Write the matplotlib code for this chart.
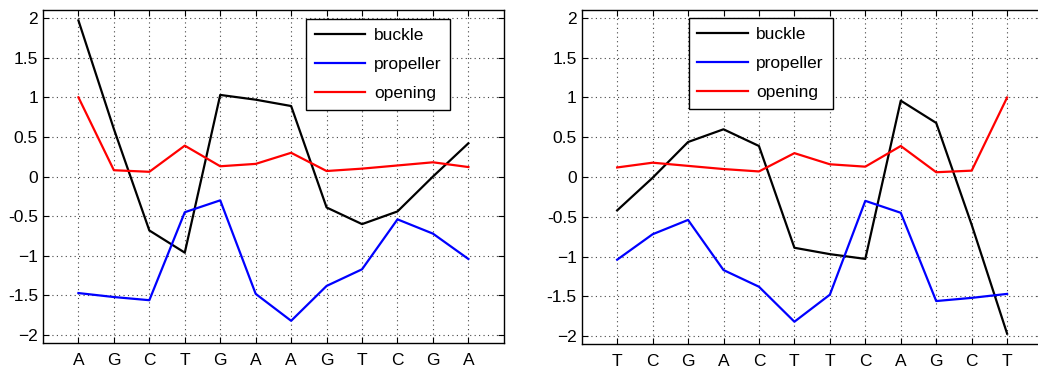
import matplotlib.pyplot as plt

plt.rcParams['font.family'] = ['Liberation Sans', 'DejaVu Sans']

# strand 1 (5'->3') and its complement
seq_left = ['A', 'G', 'C', 'T', 'G', 'A', 'A', 'G', 'T', 'C', 'G', 'A']
seq_right = ['T', 'C', 'G', 'A', 'C', 'T', 'T', 'C', 'A', 'G', 'C', 'T']

buckle_left = [1.97, 0.60, -0.68, -0.96, 1.03, 0.97, 0.89, -0.39, -0.60, -0.44, 0.00, 0.42]
propeller_left = [-1.47, -1.52, -1.56, -0.45, -0.30, -1.48, -1.82, -1.38, -1.17, -0.54, -0.72, -1.04]
opening_left = [1.00, 0.08, 0.06, 0.39, 0.13, 0.16, 0.30, 0.07, 0.10, 0.14, 0.18, 0.12]

buckle_right = [-0.42, -0.01, 0.44, 0.60, 0.39, -0.89, -0.97, -1.03, 0.96, 0.68, -0.60, -1.97]
propeller_right = [-1.04, -0.72, -0.54, -1.17, -1.38, -1.82, -1.48, -0.30, -0.45, -1.56, -1.52, -1.47]
opening_right = [0.12, 0.18, 0.14, 0.10, 0.07, 0.30, 0.16, 0.13, 0.39, 0.06, 0.08, 1.00]

yticks = [-2, -1.5, -1, -0.5, 0, 0.5, 1, 1.5, 2]
ytick_labels = ['\u22122', '-1.5', '\u22121', '-0.5', '0', '0.5', '1', '1.5', '2']

fig = plt.figure(figsize=(10.38, 3.67), dpi=100)
ax1 = fig.add_axes([0.0414, 0.0654, 0.444, 0.907])
ax2 = fig.add_axes([0.5604, 0.0627, 0.444, 0.910])


def draw_panel(ax, seq, buckle, propeller, opening, legend_anchor):
    x = list(range(1, len(seq) + 1))
    ax.plot(x, buckle, color='black', lw=1.6, label='buckle')
    ax.plot(x, propeller, color='blue', lw=1.6, label='propeller')
    ax.plot(x, opening, color='red', lw=1.6, label='opening')
    ax.set_xlim(0, len(seq) + 1)
    ax.set_ylim(-2.1, 2.1)
    ax.set_xticks(x)
    ax.set_xticklabels(seq)
    ax.set_yticks(yticks)
    ax.set_yticklabels(ytick_labels)
    ax.tick_params(direction='in', top=True, right=True, labelsize=12.5, length=4)
    ax.tick_params(axis='x', pad=7)
    ax.grid(True, linestyle=(0, (1, 3)), color='#444444', linewidth=0.8)
    for s in ax.spines.values():
        s.set_linewidth(1.0)
    leg = ax.legend(loc='upper left', bbox_to_anchor=legend_anchor, fontsize=12.5,
                    handlelength=2.9, fancybox=False, framealpha=1,
                    edgecolor='black', borderpad=0.5, labelspacing=0.8,
                    handletextpad=0.5, borderaxespad=0)
    leg.get_frame().set_linewidth(1.0)


draw_panel(ax1, seq_left, buckle_left, propeller_left, opening_left, (0.571, 0.972))
draw_panel(ax2, seq_right, buckle_right, propeller_right, opening_right, (0.232, 0.975))

fig.savefig('out.png', dpi=100)
